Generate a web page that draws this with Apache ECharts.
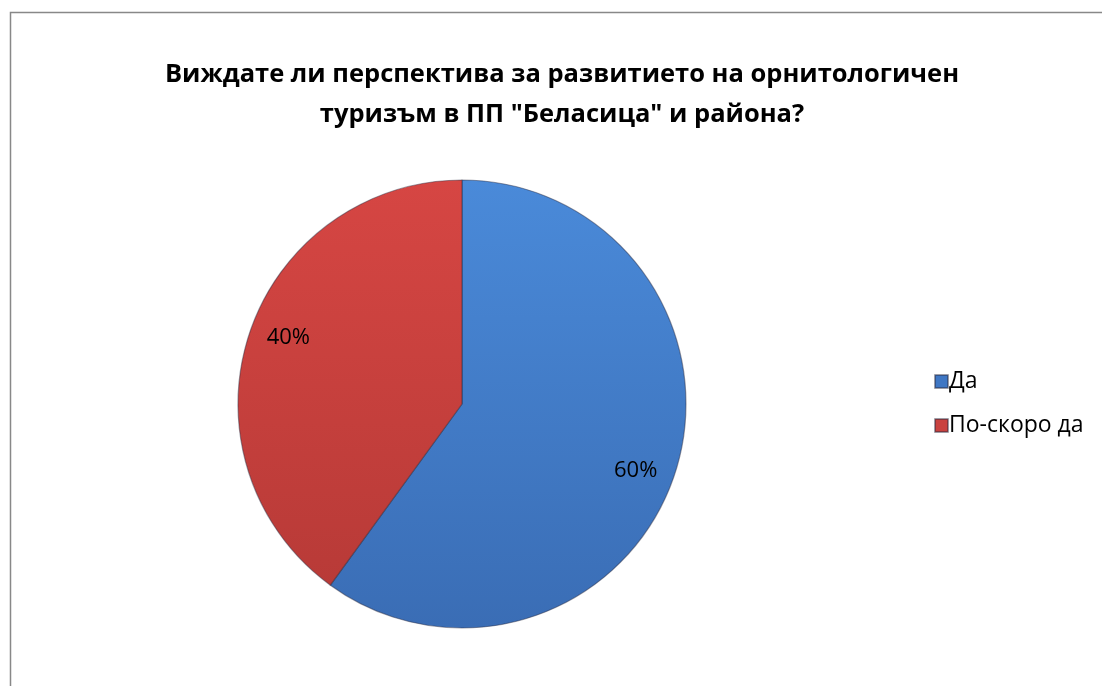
<!DOCTYPE html>
<html><head><meta charset="utf-8">
<script src="https://cdn.jsdelivr.net/npm/echarts@6/dist/echarts.min.js"></script>
<style>html,body{margin:0;padding:0;background:#fff}#c{width:1102px;height:686px}</style>
</head><body><div id="c"></div>
<script>
const titleLines = ['Виждате ли перспектива за развитието на орнитологичен', 'туризъм в ПП "Беласица" и района?'];
const categories = ['Да', 'По-скоро да'];
const values = [60, 40];
const colors = ['#3f77c4', '#c9423f'];

function grad(c1, c2) {
  return {type:'linear', x:0, y:180, x2:0, y2:628, global:true,
    colorStops:[{offset:0,color:c1},{offset:1,color:c2}]};
}
const fills = [grad('#4a8ad9','#3a6db5'), grad('#d64643','#b53936')];
const data = categories.map((n,i)=>({name:n, value:values[i], itemStyle:{color:fills[i]}}));
const labelData = categories.map((n,i)=>({name:n, value:values[i]}));

const chart = echarts.init(document.getElementById('c'), null, {renderer:'canvas'});
chart.setOption({
  animation:false,
  color: colors,
  title:{text: titleLines.join('\n'), left:557, top:50, textAlign:'center',
    textStyle:{fontFamily:'Open Sans', fontWeight:'bold', fontSize:25.5, lineHeight:40, color:'#000'}},
  legend:{orient:'vertical', left:929, top:365, itemWidth:13, itemHeight:13, itemGap:21,
    icon:'rect', data: categories.map((n,i)=>({name:n, itemStyle:{color:colors[i]}})),
    textStyle:{fontFamily:'Open Sans', fontSize:23, color:'#000', padding:[0,0,0,-4]}},
  graphic:[{type:'rect', shape:{x:10.5,y:12.5,width:1200,height:800},
    style:{fill:'none', stroke:'#888', lineWidth:1.5}, silent:true}],
  series:[
    {type:'pie', center:[462,404], radius:[0,224], startAngle:90, clockwise:true,
     label:{show:false}, labelLine:{show:false}, data:data,
     itemStyle:{borderColor:'rgba(40,40,60,0.45)', borderWidth:1.2}},
    {type:'pie', center:[462,404], radius:[142,224], startAngle:87, clockwise:true, silent:true,
     itemStyle:{color:'transparent', borderWidth:0}, labelLine:{show:false}, data:labelData,
     label:{show:true, position:'inside', formatter:'{d}%', fontFamily:'Open Sans', fontSize:22, color:'#000'}}
  ]
});
</script></body></html>
